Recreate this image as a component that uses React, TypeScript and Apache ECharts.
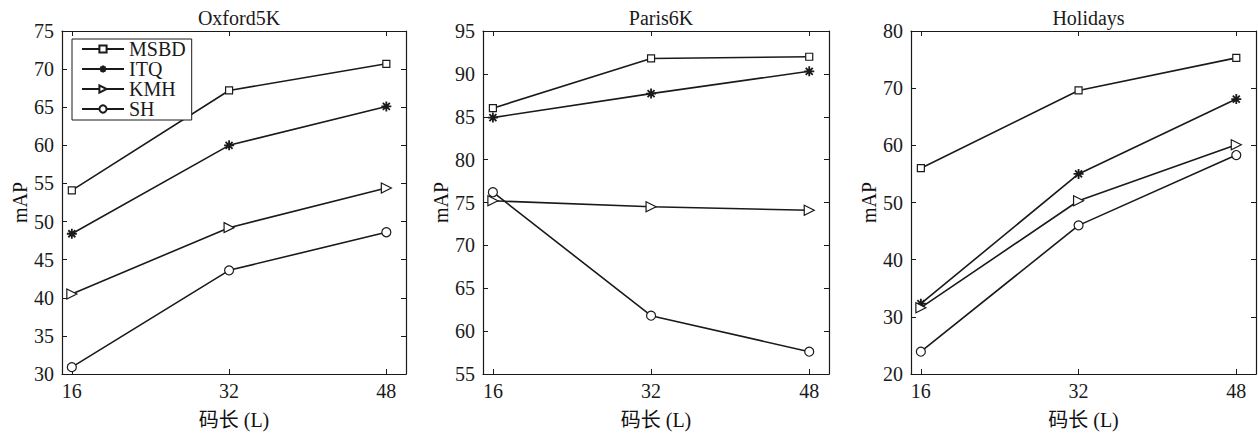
import React, { useEffect, useRef } from "react";
import * as echarts from "echarts";

const CODE_LENGTHS = [16, 32, 48];
const METHODS = ["MSBD", "ITQ", "KMH", "SH"];
const PANEL_TITLES = ["Oxford5K", "Paris6K", "Holidays"];

const oxfordMSBD = [54.1, 67.2, 70.7];
const oxfordITQ = [48.4, 60.0, 65.1];
const oxfordKMH = [40.5, 49.2, 54.4];
const oxfordSH = [30.9, 43.6, 48.6];

const parisMSBD = [86.0, 91.8, 92.0];
const parisITQ = [84.9, 87.7, 90.3];
const parisKMH = [75.2, 74.5, 74.1];
const parisSH = [76.2, 61.8, 57.6];

const holidaysMSBD = [56.0, 69.6, 75.3];
const holidaysITQ = [32.3, 55.0, 68.1];
const holidaysKMH = [31.6, 50.3, 60.1];
const holidaysSH = [23.9, 46.0, 58.3];

const Y_MIN = [30, 55, 20];
const Y_MAX = [75, 95, 80];
const Y_INTERVAL = [5, 5, 10];

const PANEL_DATA = [
  [oxfordMSBD, oxfordITQ, oxfordKMH, oxfordSH],
  [parisMSBD, parisITQ, parisKMH, parisSH],
  [holidaysMSBD, holidaysITQ, holidaysKMH, holidaysSH],
];

const FONT = '"Liberation Serif", "Noto Sans CJK SC", serif';
const INK = "#1a1a1a";

const ASTERISK = "path://M5,0 L5,10 M0,5 L10,5 M1.5,1.5 L8.5,8.5 M8.5,1.5 L1.5,8.5";
const TRIANGLE = "path://M0,0 L10,5 L0,10 Z";

const SYMBOLS: any[] = ["rect", ASTERISK, TRIANGLE, "circle"];
const SYMBOL_SIZES: any[] = [7, 10, 10, 9];
const BORDER_W = [1.2, 1.8, 1.2, 1.2];

const GRIDS = [
  { left: 62, top: 31, width: 344, height: 344, nameGapY: 32 },
  { left: 483, top: 31, width: 346, height: 344, nameGapY: 28 },
  { left: 911, top: 31, width: 345, height: 344, nameGapY: 31 },
];

export default function App() {
  const ref = useRef<HTMLDivElement>(null);
  useEffect(() => {
    if (!ref.current) return;
    const chart = echarts.init(ref.current, undefined, { renderer: "svg" });

    const grid: any[] = [];
    const xAxis: any[] = [];
    const yAxis: any[] = [];
    const series: any[] = [];
    const title: any[] = [];

    GRIDS.forEach((g, p) => {
      grid.push({ left: g.left, top: g.top, width: g.width, height: g.height, show: false });
      title.push({
        text: PANEL_TITLES[p],
        left: g.left + g.width / 2,
        top: 3,
        textAlign: "center",
        textStyle: { fontFamily: FONT, fontSize: 20, fontWeight: "normal", color: INK },
      });
      const axisLine = { show: true, lineStyle: { color: INK, width: 1.2 } };
      xAxis.push({
        type: "value",
        gridIndex: p,
        min: 15,
        max: 50,
        position: "bottom",
        name: "码长 (L)",
        nameLocation: "middle",
        nameGap: 36,
        nameTextStyle: { fontFamily: FONT, fontSize: 20, color: "#111" },
        axisLine,
        splitLine: { show: false },
        axisTick: { inside: true, length: 5, customValues: CODE_LENGTHS, lineStyle: { color: INK } },
        axisLabel: { customValues: CODE_LENGTHS, margin: 7, fontFamily: FONT, fontSize: 20, color: INK },
      });
      xAxis.push({
        type: "value",
        gridIndex: p,
        min: 15,
        max: 50,
        position: "top",
        axisLine,
        splitLine: { show: false },
        axisTick: { inside: true, length: 5, customValues: CODE_LENGTHS, lineStyle: { color: INK } },
        axisLabel: { show: false },
      });
      yAxis.push({
        type: "value",
        gridIndex: p,
        min: Y_MIN[p],
        max: Y_MAX[p],
        interval: Y_INTERVAL[p],
        position: "left",
        name: "mAP",
        nameLocation: "middle",
        nameGap: g.nameGapY,
        nameRotate: 90,
        nameTextStyle: { fontFamily: FONT, fontSize: 20, color: "#111" },
        axisLine,
        splitLine: { show: false },
        axisTick: { inside: true, length: 5, lineStyle: { color: INK } },
        axisLabel: { margin: 8, fontFamily: FONT, fontSize: 20, color: INK },
      });
      yAxis.push({
        type: "value",
        gridIndex: p,
        min: Y_MIN[p],
        max: Y_MAX[p],
        interval: Y_INTERVAL[p],
        position: "right",
        axisLine,
        splitLine: { show: false },
        axisTick: { inside: true, length: 5, lineStyle: { color: INK } },
        axisLabel: { show: false },
      });
      METHODS.forEach((m, k) => {
        series.push({
          type: "line",
          name: m,
          xAxisIndex: 2 * p,
          yAxisIndex: 2 * p,
          data: CODE_LENGTHS.map((x, i) => [x, PANEL_DATA[p][k][i]]),
          symbol: SYMBOLS[k],
          symbolSize: SYMBOL_SIZES[k],
          showAllSymbol: true,
          lineStyle: { color: INK, width: 1.6 },
          itemStyle: { color: "#fff", borderColor: INK, borderWidth: BORDER_W[k] },
          emphasis: { disabled: true },
          z: 3,
        });
      });
    });

    chart.setOption({
      animation: false,
      backgroundColor: "#fff",
      title,
      grid,
      xAxis,
      yAxis,
      series,
      legend: {
        orient: "vertical",
        left: 72,
        top: 39,
        padding: [0, 6, 1, 9],
        itemGap: 0,
        itemWidth: 42,
        itemHeight: 9,
        backgroundColor: "#fff",
        borderColor: INK,
        borderWidth: 1,
        selectedMode: false,
        textStyle: { fontFamily: FONT, fontSize: 20, color: INK, lineHeight: 20 },
        data: METHODS,
        z: 10,
      },
    });
    return () => chart.dispose();
  }, []);
  return (
    <div
      ref={ref}
      style={{ position: "absolute", left: 0, top: 0, width: 1258, height: 435 }}
    />
  );
}
